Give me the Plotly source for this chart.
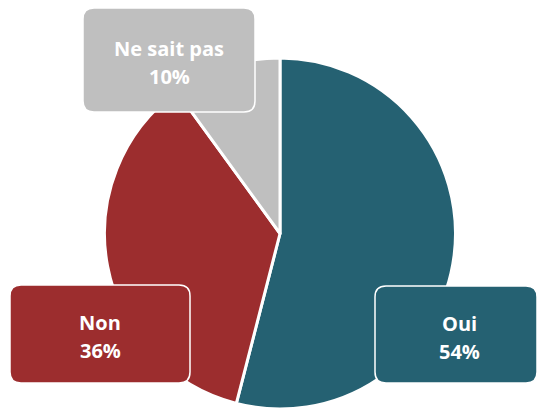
import plotly.graph_objects as go

labels = ["Oui", "Non", "Ne sait pas"]
values = [54, 36, 10]
colors = ["#256172", "#9C2D2E", "#BFBFBF"]

W, H = 538, 409

# label box geometry in window pixels (left, top, right, bottom)
boxes = {
    "Oui": (375, 286, 537, 383),
    "Non": (10, 285, 190, 383),
    "Ne sait pas": (83, 8, 255, 112),
}

def px_x(x):
    return x / W

def px_y(y):
    return 1 - y / H

def rounded_path(l, t, r, b, rad=11):
    pts = [
        f"M {px_x(l + rad)},{px_y(t)}",
        f"L {px_x(r - rad)},{px_y(t)}",
        f"Q {px_x(r)},{px_y(t)} {px_x(r)},{px_y(t + rad)}",
        f"L {px_x(r)},{px_y(b - rad)}",
        f"Q {px_x(r)},{px_y(b)} {px_x(r - rad)},{px_y(b)}",
        f"L {px_x(l + rad)},{px_y(b)}",
        f"Q {px_x(l)},{px_y(b)} {px_x(l)},{px_y(b - rad)}",
        f"L {px_x(l)},{px_y(t + rad)}",
        f"Q {px_x(l)},{px_y(t)} {px_x(l + rad)},{px_y(t)}",
        "Z",
    ]
    return " ".join(pts)

cx, cy, rad = 280, 234, 176

fig = go.Figure(go.Pie(
    labels=labels,
    values=values,
    sort=False,
    direction="clockwise",
    rotation=0,
    textinfo="none",
    hoverinfo="label+percent",
    marker=dict(colors=colors, line=dict(color="white", width=3)),
    domain=dict(x=[px_x(cx - rad), px_x(cx + rad)], y=[max(0, px_y(cy + rad)), px_y(cy - rad)]),
    showlegend=False,
))

shapes = []
annotations = []
total = sum(values)
font = dict(family="Open Sans", size=20, color="white")
for lab, val, col in zip(labels, values, colors):
    l, t, r, b = boxes[lab]
    shapes.append(dict(
        type="path", xref="paper", yref="paper", path=rounded_path(l, t, r, b),
        fillcolor=col, line=dict(color="white", width=1.5), layer="above",
    ))
    mx = (l + r) / 2 + (3 if lab == "Oui" else 0)
    my = (t + b) / 2
    annotations.append(dict(
        x=px_x(mx), y=px_y(my - 11.5), xref="paper", yref="paper",
        text=f"<b>{lab}</b>", showarrow=False, font=font,
        xanchor="center", yanchor="middle",
    ))
    annotations.append(dict(
        x=px_x(mx), y=px_y(my + 16.5), xref="paper", yref="paper",
        text=f"<b>{round(100 * val / total)}%</b>", showarrow=False, font=font,
        xanchor="center", yanchor="middle",
    ))

fig.update_layout(
    width=W, height=H,
    margin=dict(l=0, r=0, t=0, b=0),
    paper_bgcolor="white",
    plot_bgcolor="white",
    shapes=shapes,
    annotations=annotations,
)

fig.write_html(
    "out.html",
    config={"displayModeBar": False},
    post_script="document.body.style.margin='0';document.body.style.overflow='hidden';",
)
